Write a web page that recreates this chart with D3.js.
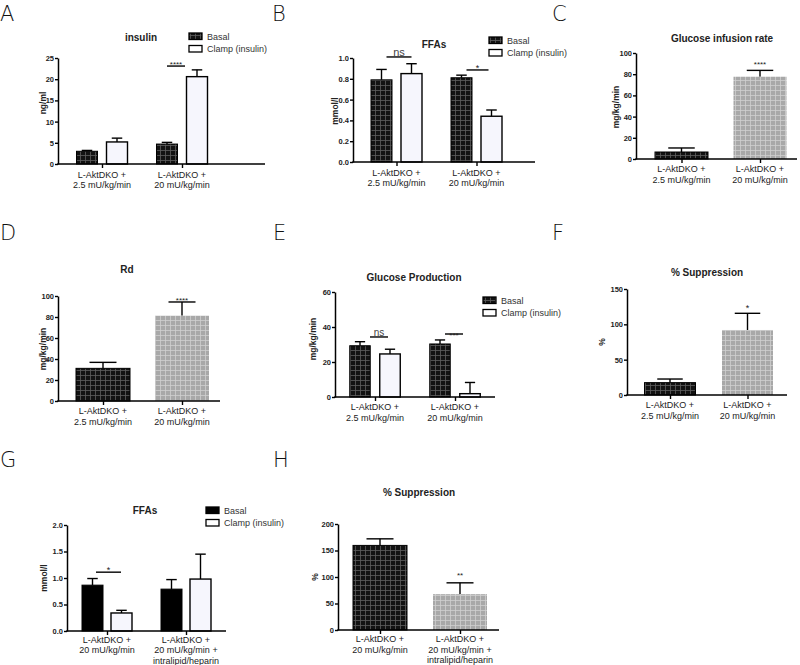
<!DOCTYPE html>
<html><head><meta charset="utf-8">
<script src="https://cdn.jsdelivr.net/npm/d3@7"></script>
<style>body{margin:0;background:#fff}svg{display:block}</style>
</head><body>
<svg id="c" width="800" height="665"></svg>
<script>
// ---------- data ----------
const groupsDose = [["L-AktDKO +","2.5 mU/kg/min"],["L-AktDKO +","20 mU/kg/min"]];
const groupsLipid = [["L-AktDKO +","20 mU/kg/min"],["L-AktDKO +","20 mU/kg/min +","intralipid/heparin"]];
const seriesNames = ["Basal","Clamp (insulin)"];

const insulinBasal = [3.0, 4.7],  insulinBasalSem = [0.2, 0.4];
const insulinClamp = [5.2, 20.6], insulinClampSem = [0.9, 1.6];
const insulinTicks = [0,5,10,15,20,25];

const ffaBasal = [0.79, 0.81], ffaBasalSem = [0.10, 0.025];
const ffaClamp = [0.85, 0.44], ffaClampSem = [0.095, 0.06];
const ffaTicks = [0,0.2,0.4,0.6,0.8,1.0];

const girMean = [6.6, 77.6], girSem = [3.8, 6.0];
const girTicks = [0,20,40,60,80,100];

const rdMean = [31.1, 81.3], rdSem = [5.7, 13.0];
const rdTicks = [0,20,40,60,80,100];

const gpBasal = [29.3, 30.3], gpBasalSem = [2.3, 2.3];
const gpClamp = [24.6, 1.9],  gpClampSem = [2.7, 6.4];
const gpTicks = [0,20,40,60];

const supMean = [17.5, 92], supSem = [5.1, 23.6];
const supTicks = [0,50,100,150];

const ffa2Basal = [0.865, 0.79], ffa2BasalSem = [0.125, 0.18];
const ffa2Clamp = [0.34, 0.98],  ffa2ClampSem = [0.05, 0.47];
const ffa2Ticks = [0,0.5,1.0,1.5,2.0];

const sup2Mean = [159.6, 67.6], sup2Sem = [12.4, 21.4];
const sup2Ticks = [0,50,100,150,200];

// ---------- drawing ----------
const svg = d3.select("#c");
const FONT = "Liberation Sans, Arial, sans-serif";
const defs = svg.append("defs");
function gridPattern(id, bg, line, size){
  const pt = defs.append("pattern").attr("id",id).attr("patternUnits","userSpaceOnUse")
    .attr("width",size).attr("height",size);
  pt.append("rect").attr("width",size).attr("height",size).attr("fill",bg);
  pt.append("path").attr("d",`M0,0.5H${size}M0.5,0V${size}`).attr("stroke",line).attr("stroke-width",0.8);
}
gridPattern("blk","#121212","#5e5e5e",5);
gridPattern("gry","#a8a8a8","#cfcfcf",5);
const FILL = {blk:"url(#blk)", gry:"url(#gry)", solid:"#000", white:"#f6f6fd"};

const panels = [
 {letter:"A", lx:0, ly:20.5, title:"insulin", tx:141, ty:41, ylab:"ng/ml", ylx:46, yly:103,
  ax:58, ae:265, y0:164, yTop:58, ticks:insulinTicks, fmt:d3.format("d"), xly:13.5,
  c1:102, c2:182, bw:21, gap:9, groups:groupsDose,
  series:[{mean:insulinBasal, sem:insulinBasalSem, fill:["blk","blk"]},
          {mean:insulinClamp, sem:insulinClampSem, fill:["white","white"]}],
  legend:{x:189, y:33, fill:"blk"},
  sigs:[{g:1, x1:-15, x2:3, v:23.1, text:"****", fs:8, dy:1.2}]},
 {letter:"B", lx:272, ly:20.5, title:"FFAs", tx:434, ty:48, ylab:"mmol/l", ylx:338, yly:111,
  ax:353, ae:535, y0:162, yTop:58, ticks:ffaTicks, fmt:d3.format(".1f"), xly:13.5,
  c1:396.5, c2:476.5, bw:21, gap:9, groups:groupsDose,
  series:[{mean:ffaBasal, sem:ffaBasalSem, fill:["blk","blk"]},
          {mean:ffaClamp, sem:ffaClampSem, fill:["white","white"]}],
  legend:{x:489, y:37, fill:"blk"},
  sigs:[{g:0, x1:-10, x2:15, v:1.01, text:"ns", fs:11, dy:-0.5, color:"#444"},
        {g:1, x1:-10, x2:12, v:0.885, text:"*", fs:9, dy:1.2}]},
 {letter:"C", lx:552, ly:20.5, title:"Glucose infusion rate", tx:722, ty:42, ylab:"mg/kg/min", ylx:619, yly:107,
  ax:636, ae:797, y0:159, yTop:53, ticks:girTicks, fmt:d3.format("d"), xly:13,
  c1:681.5, c2:760, bw:53, gap:0, groups:groupsDose,
  series:[{mean:girMean, sem:girSem, fill:["blk","gry"]}],
  sigs:[{g:1, v:91.5, text:"****", fs:8, dy:4.6}]},
 {letter:"D", lx:0, ly:240, title:"Rd", tx:127, ty:273, ylab:"mg/kg/min", ylx:46, yly:349,
  ax:58, ae:220, y0:401, yTop:296, ticks:rdTicks, fmt:d3.format("d"), xly:13,
  c1:103, c2:182, bw:54, gap:0, groups:groupsDose,
  series:[{mean:rdMean, sem:rdSem, fill:["blk","gry"]}],
  sigs:[{g:1, v:98, text:"****", fs:8, dy:4.6}]},
 {letter:"E", lx:273, ly:240, title:"Glucose Production", tx:414, ty:281, ylab:"mg/kg/min", ylx:316, yly:339,
  ax:335, ae:495, y0:397, yTop:292, ticks:gpTicks, fmt:d3.format("d"), xly:13,
  c1:375, c2:455, bw:20.5, gap:9.5, groups:groupsDose,
  series:[{mean:gpBasal, sem:gpBasalSem, fill:["blk","blk"]},
          {mean:gpClamp, sem:gpClampSem, fill:["white","white"]}],
  legend:{x:483, y:297, fill:"blk"},
  sigs:[{g:0, x1:-5, x2:13, v:34.3, text:"ns", fs:10, dy:-0.5, color:"#444"},
        {g:1, x1:-10, x2:8, v:36, text:"***", fs:8, dy:4.4}]},
 {letter:"F", lx:552, ly:240, title:"% Suppression", tx:707, ty:276, ylab:"%", ylx:605, yly:342,
  ax:627, ae:787, y0:395, yTop:289, ticks:supTicks, fmt:d3.format("d"), xly:13,
  c1:670, c2:747.5, bw:51, gap:0, groups:groupsDose,
  series:[{mean:supMean, sem:supSem, fill:["blk","gry"]}],
  sigs:[{g:1, v:126, text:"*", fs:9, dy:4.8}]},
 {letter:"G", lx:0, ly:467, title:"FFAs", tx:145, ty:514, ylab:"mmol/l", ylx:47, yly:578,
  ax:67, ae:226, y0:631, yTop:525, ticks:ffa2Ticks, fmt:d3.format(".1f"), xly:11.5,
  c1:107, c2:186, bw:21, gap:8, groups:groupsLipid,
  series:[{mean:ffa2Basal, sem:ffa2BasalSem, fill:["solid","solid"]},
          {mean:ffa2Clamp, sem:ffa2ClampSem, fill:["white","white"]}],
  legend:{x:206, y:507, fill:"solid"},
  sigs:[{g:0, x1:-11, x2:14, v:1.11, text:"*", fs:9, dy:1.2}]},
 {letter:"H", lx:273, ly:467, title:"% Suppression", tx:419, ty:496, ylab:"%", ylx:318, yly:577,
  ax:338, ae:499, y0:630, yTop:524, ticks:sup2Ticks, fmt:d3.format("d"), xly:12,
  c1:380, c2:460, bw:54, gap:0, groups:groupsLipid,
  series:[{mean:sup2Mean, sem:sup2Sem, fill:["blk","gry"]}],
  sigs:[{g:1, v:107.5, text:"**", fs:8, dy:4.6}]}
];

panels.forEach(p => {
  const g = svg.append("g");
  // panel letter
  g.append("text").attr("x",p.lx).attr("y",p.ly).text(p.letter)
    .attr("font-family","DejaVu Sans, sans-serif").attr("font-weight",200)
    .attr("font-size",21).attr("fill","#111");
  // title
  g.append("text").attr("x",p.tx).attr("y",p.ty).attr("text-anchor","middle").text(p.title)
    .attr("font-family",FONT).attr("font-weight","bold").attr("font-size",10).attr("fill","#222");
  // y label
  g.append("text").attr("transform",`translate(${p.ylx},${p.yly}) rotate(-90)`)
    .attr("text-anchor","middle").text(p.ylab)
    .attr("font-family",FONT).attr("font-weight","bold").attr("font-size",8.5).attr("fill","#222");

  const yMax = p.ticks[p.ticks.length-1];
  const y = d3.scaleLinear().domain([0,yMax]).range([p.y0,p.yTop]);
  const x = d3.scalePoint().domain(d3.range(p.groups.length)).range([p.c1,p.c2]);
  const ns = p.series.length;
  const half = (ns*p.bw + (ns-1)*p.gap)/2;
  const sub = d3.scaleBand().domain(d3.range(ns)).range([-half,half])
    .paddingInner(ns>1 ? p.gap/(p.bw+p.gap) : 0);

  // bars
  p.series.forEach((s,si) => {
    const bars = g.append("g");
    s.mean.forEach((m,gi) => {
      const bx = x(gi)+sub(si);
      const fillKey = s.fill[gi];
      const cx = bx + p.bw/2;
      const top = y(m+s.sem[gi]);
      bars.append("line").attr("x1",cx).attr("x2",cx).attr("y1",y(m)).attr("y2",top)
        .attr("stroke","#000").attr("stroke-width",1.4);
      bars.append("line").attr("x1",cx-p.bw/4).attr("x2",cx+p.bw/4).attr("y1",top).attr("y2",top)
        .attr("stroke","#000").attr("stroke-width",1.4);
      bars.append("rect").attr("x",bx).attr("y",y(m)).attr("width",p.bw).attr("height",p.y0-y(m))
        .attr("fill",FILL[fillKey]).attr("stroke",fillKey==="gry"?"none":"#000")
        .attr("stroke-width",fillKey==="white"?1.4:1);
    });
  });

  // y axis
  const ya = g.append("g").attr("transform",`translate(${p.ax},0)`)
    .call(d3.axisLeft(y).tickValues(p.ticks).tickFormat(p.fmt).tickSize(3).tickSizeOuter(0).tickPadding(1));
  ya.select(".domain").attr("stroke","#000").attr("stroke-width",1.5);
  ya.selectAll(".tick line").attr("stroke","#000").attr("stroke-width",1.4);
  ya.selectAll(".tick text").attr("font-family",FONT).attr("font-weight","bold")
    .attr("font-size",7.5).attr("fill","#222");

  // x axis
  const xa = g.append("g").attr("transform",`translate(0,${p.y0})`)
    .call(d3.axisBottom(x).tickSize(4).tickFormat(""));
  xa.select(".domain").remove();
  xa.selectAll(".tick line").attr("stroke","#000").attr("stroke-width",1.4);
  g.append("line").attr("x1",p.ax-0.75).attr("x2",p.ae).attr("y1",p.y0).attr("y2",p.y0)
    .attr("stroke","#000").attr("stroke-width",1.6);
  p.groups.forEach((lines,gi) => {
    const t = g.append("text").attr("text-anchor","middle")
      .attr("font-family",FONT).attr("font-size",9).attr("fill","#222");
    lines.forEach((ln,li) => {
      t.append("tspan").attr("x",x(gi)).attr("y",p.y0+p.xly+li*10.5).text(ln);
    });
  });

  // significance
  p.sigs.forEach(sg => {
    const ly = y(sg.v);
    let cx;
    if (sg.x1 !== undefined) {
      g.append("line").attr("x1",x(sg.g)+sg.x1).attr("x2",x(sg.g)+sg.x2).attr("y1",ly).attr("y2",ly)
        .attr("stroke","#000").attr("stroke-width",1.4);
      cx = x(sg.g)+(sg.x1+sg.x2)/2;
    } else {
      cx = x(sg.g)+sub(ns-1)+p.bw/2;
    }
    g.append("text").attr("x",cx).attr("y",ly+sg.dy).attr("text-anchor","middle").text(sg.text)
      .attr("font-family",FONT).attr("font-size",sg.fs).attr("fill",sg.color||"#222");
  });

  // legend
  if (p.legend) {
    seriesNames.forEach((nm,i) => {
      const ly = p.legend.y + i*12.5;
      g.append("rect").attr("x",p.legend.x).attr("y",ly).attr("width",13).attr("height",6.5)
        .attr("fill", i===0 ? FILL[p.legend.fill] : "#fff")
        .attr("stroke","#000").attr("stroke-width",1.3);
      g.append("text").attr("x",p.legend.x+18).attr("y",ly+6.5).text(nm)
        .attr("font-family",FONT).attr("font-size",9).attr("fill","#333");
    });
  }
});
</script>
</body></html>
